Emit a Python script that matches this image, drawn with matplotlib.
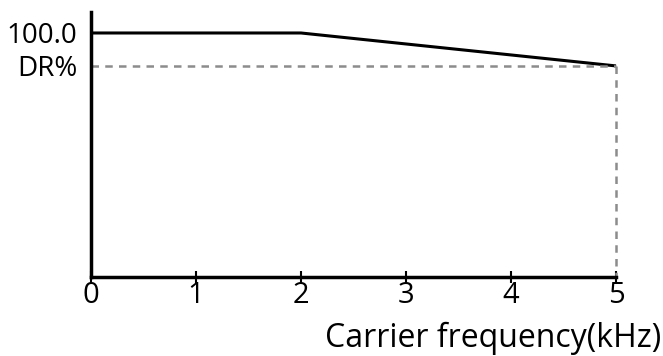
import numpy as np
import matplotlib.pyplot as plt

# derating curve
freq = [0, 2, 5]
rating = [100.0, 100.0, 86.5]
dr_level = 86.5
xticks = [0, 1, 2, 3, 4, 5]
ytick_vals = [100.0, dr_level]
ytick_labels = ["100.0", "DR%"]

plt.rcParams['font.family'] = ['Open Sans', 'DejaVu Sans']

fig = plt.figure(figsize=(6.63, 3.56), dpi=100)
ax = fig.add_axes([91/663, 79/356, 525/663, 265/356])

ax.plot(freq, rating, color='black', lw=2.2, solid_capstyle='butt', clip_on=False)
ax.plot([0, 5], [dr_level, dr_level], color='#8c8c8c', lw=1.8, ls=(0, (3, 2.5)), clip_on=False)
ax.plot([5, 5], [dr_level, 0], color='#8c8c8c', lw=1.8, ls=(0, (3, 2.5)), clip_on=False)

ax.set_xlim(0, 5)
ax.set_ylim(0, 108.6)
for s in ['top', 'right']:
    ax.spines[s].set_visible(False)
for s in ['left', 'bottom']:
    ax.spines[s].set_linewidth(2.5)

ax.set_xticks(xticks)
ax.set_xticklabels([str(t) for t in xticks])
ax.tick_params(axis='x', direction='inout', length=8, width=1.5, labelsize=21, pad=-1)
ax.set_yticks(ytick_vals)
ax.set_yticklabels(ytick_labels)
ax.tick_params(axis='y', length=0, labelsize=20, pad=10)

fig.text(0.997, 0.05, "Carrier frequency(kHz)", ha='right', va='center', fontsize=23)

fig.savefig('out.png', dpi=100)
